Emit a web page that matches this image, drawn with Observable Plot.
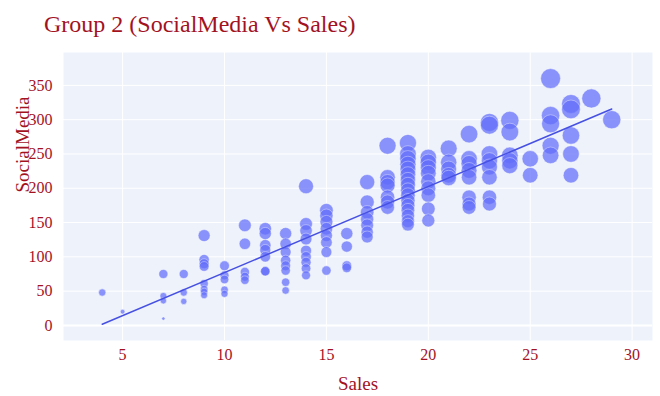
<!DOCTYPE html>
<html>
<head>
<meta charset="utf-8">
<script src="https://cdn.jsdelivr.net/npm/d3@7"></script>
<script src="https://cdn.jsdelivr.net/npm/@observablehq/plot@0.6"></script>
<style>
  html, body { margin: 0; padding: 0; background: #ffffff; }
  #wrap { position: relative; width: 660px; height: 396px; overflow: hidden; }
  #title {
    position: absolute; left: 44px; top: 12px; margin: 0;
    font-family: "Liberation Serif", serif; font-size: 24px; line-height: 1;
    font-weight: normal; color: #a3121f; white-space: nowrap;
  }
  #chart { position: absolute; left: 0; top: 48px; }
</style>
</head>
<body>
<div id="wrap">
  <h2 id="title">Group 2 (SocialMedia Vs Sales)</h2>
  <div id="chart"></div>
</div>
<script>
// Sales levels (x) and the SocialMedia budgets observed at each level (y)
const salesLevels = [4, 5, 7, 8, 9, 10, 11, 12, 13, 14, 15, 16, 17, 18, 19, 20, 21, 22, 23, 24, 25, 26, 27, 28, 29];
const socialMediaBySales = [
  [48],
  [20],
  [75, 43, 36, 10],
  [75, 48, 35],
  [131, 96, 90, 86, 61, 53, 49, 44],
  [87, 73, 67, 52, 46],
  [146, 119, 78, 71, 66],
  [141, 134, 117, 110, 100, 79, 79],
  [134, 119, 107, 95, 87, 80, 63, 51],
  [203, 148, 138, 126, 109, 100, 92, 83, 73],
  [168, 160, 151, 141, 131, 121, 107, 80],
  [134, 115, 87, 84],
  [209, 180, 165, 155, 146, 136, 129],
  [262, 216, 209, 204, 187, 180, 172],
  [266, 250, 243, 235, 228, 220, 212, 205, 197, 190, 182, 175, 168, 160, 152, 147],
  [245, 238, 230, 222, 210, 200, 190, 170, 153],
  [258, 238, 228, 219, 215],
  [279, 243, 236, 226, 216, 187, 177, 172],
  [296, 292, 250, 240, 231, 216, 187, 177],
  [299, 282, 248, 240, 233],
  [243, 219],
  [360, 306, 294, 262, 248],
  [323, 315, 277, 250, 219],
  [331],
  [300]
];
const xTicks = [5, 10, 15, 20, 25, 30];
const yTicks = [0, 50, 100, 150, 200, 250, 300, 350];
const xTitle = "Sales";
const yTitle = "SocialMedia";

const data = salesLevels.flatMap((s, i) =>
  socialMediaBySales[i].map(v => ({Sales: s, SocialMedia: v}))
);

const red = "#a3121f";
const chart = Plot.plot({
  width: 660,
  height: 348,
  marginTop: 4,
  marginLeft: 63,
  marginRight: 8,
  marginBottom: 56,
  style: {fontFamily: "Liberation Serif", fontSize: "16px", color: red, background: "transparent"},
  x: {domain: [2.1, 31]},
  y: {domain: [-22, 398]},
  r: {domain: [0, 360], range: [0, 10]},
  marks: [
    Plot.frame({fill: "#eef3fb", stroke: null}),
    Plot.gridX(xTicks, {stroke: "#ffffff", strokeOpacity: 1, strokeWidth: 1}),
    Plot.gridY(yTicks, {stroke: "#ffffff", strokeOpacity: 1, strokeWidth: 1}),
    Plot.ruleY([0], {stroke: "#ffffff", strokeWidth: 2}),
    Plot.axisX(xTicks, {tickSize: 0, tickPadding: 8, label: null, fill: red}),
    Plot.axisY(yTicks, {tickSize: 0, tickPadding: 11, label: null, fill: red}),
    // axis titles
    Plot.text([xTitle], {frameAnchor: "bottom", dy: 43, lineAnchor: "middle", fontSize: 19, fill: red}),
    Plot.text([yTitle], {frameAnchor: "left", dx: -41, dy: -4, rotate: -90, lineAnchor: "middle", fontSize: 19, fill: red}),
    Plot.dot(data, {x: "Sales", y: "SocialMedia", r: "SocialMedia", fill: "#636efa", opacity: 0.72, stroke: "#ffffff", strokeWidth: 0.5}),
    Plot.linearRegressionY(data, {x: "Sales", y: "SocialMedia", stroke: "#4650e2", strokeWidth: 1.5, ci: 0})
  ]
});
document.getElementById("chart").appendChild(chart);
</script>
</body>
</html>
